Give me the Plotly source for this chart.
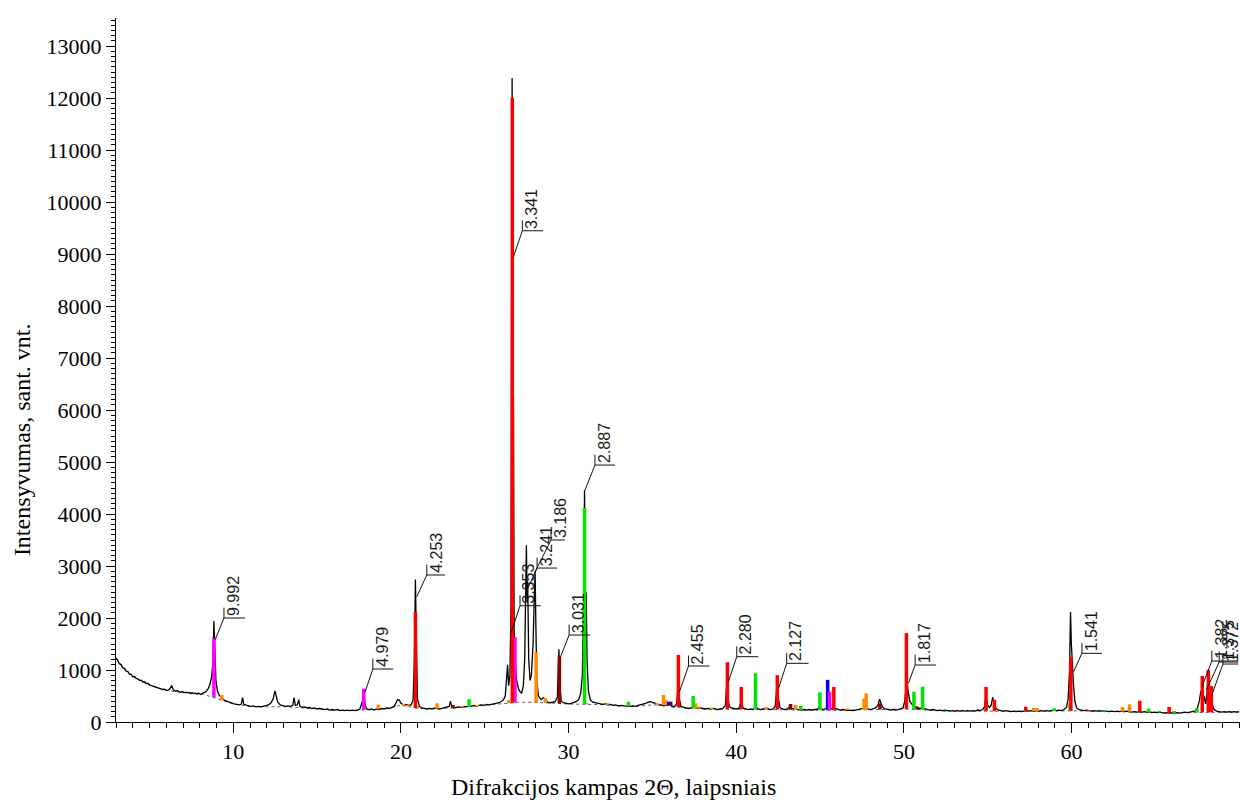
import numpy as np
import plotly.graph_objects as go

# ---- measured diffractogram (2theta, counts) ----
scan = [
    (3.00, 1230), (3.10, 1190), (3.20, 1120), (3.30, 1100), (3.40, 1040), (3.50, 1030), (3.60, 980),
    (3.70, 975), (3.80, 920), (3.90, 915), (4.00, 870), (4.10, 880), (4.20, 840), (4.30, 830),
    (4.40, 800), (4.50, 805), (4.60, 770), (4.70, 775), (4.80, 740), (4.90, 745), (5.00, 715),
    (5.10, 705), (5.20, 690), (5.30, 685), (5.40, 660), (5.50, 665), (5.60, 645), (5.70, 635),
    (5.80, 625), (5.90, 630), (6.00, 610), (6.10, 615), (6.20, 630), (6.32, 700), (6.42, 620),
    (6.55, 590), (6.65, 605), (6.75, 585), (6.85, 570), (6.95, 585), (7.05, 565), (7.15, 575),
    (7.25, 560), (7.35, 570), (7.45, 550), (7.55, 565), (7.65, 545), (7.75, 555), (7.85, 540),
    (7.95, 555), (8.05, 530), (8.20, 560), (8.35, 580), (8.50, 640), (8.60, 720), (8.70, 860),
    (8.78, 1150), (8.84, 1940), (8.90, 1300), (8.96, 800), (9.05, 600), (9.15, 520), (9.30, 460),
    (9.45, 420), (9.60, 400), (9.75, 380), (9.90, 360), (10.05, 350), (10.20, 340), (10.35, 330),
    (10.47, 340), (10.55, 470), (10.62, 340), (10.75, 320), (10.90, 310), (11.05, 300), (11.20, 310),
    (11.35, 290), (11.50, 300), (11.65, 290), (11.80, 300), (11.95, 310), (12.10, 330), (12.25, 370),
    (12.38, 450), (12.48, 600), (12.56, 480), (12.65, 380), (12.80, 330), (12.95, 320), (13.10, 300),
    (13.25, 310), (13.40, 300), (13.55, 320), (13.62, 470), (13.70, 320), (13.82, 330), (13.90, 430),
    (13.97, 300), (14.10, 280), (14.25, 290), (14.40, 270), (14.55, 280), (14.70, 260), (14.85, 270),
    (15.00, 250), (15.15, 260), (15.30, 250), (15.45, 240), (15.60, 250), (15.75, 230), (15.90, 240),
    (16.05, 230), (16.20, 240), (16.35, 220), (16.50, 230), (16.65, 220), (16.80, 230), (16.95, 220),
    (17.10, 230), (17.25, 220), (17.40, 230), (17.55, 250), (17.70, 400), (17.78, 590), (17.86, 330),
    (17.95, 250), (18.10, 240), (18.25, 250), (18.40, 230), (18.55, 250), (18.70, 240), (18.85, 260),
    (19.00, 250), (19.15, 270), (19.30, 260), (19.45, 280), (19.60, 300), (19.72, 380), (19.80, 430),
    (19.90, 420), (20.00, 360), (20.15, 330), (20.30, 340), (20.45, 320), (20.60, 330), (20.72, 420),
    (20.80, 1200), (20.86, 2740), (20.92, 1000), (20.98, 450), (21.10, 300), (21.25, 270),
    (21.40, 260), (21.55, 250), (21.70, 260), (21.85, 250), (22.00, 270), (22.15, 260), (22.30, 250),
    (22.45, 260), (22.60, 270), (22.75, 280), (22.88, 300), (22.95, 400), (23.03, 290), (23.15, 270),
    (23.30, 280), (23.45, 290), (23.60, 280), (23.75, 300), (23.90, 290), (24.05, 310), (24.20, 300),
    (24.35, 320), (24.50, 310), (24.65, 320), (24.80, 330), (24.95, 320), (25.10, 340), (25.25, 330),
    (25.40, 340), (25.55, 350), (25.70, 360), (25.85, 370), (26.00, 400), (26.12, 430), (26.22, 500),
    (26.30, 900), (26.36, 1100), (26.42, 700), (26.50, 900), (26.56, 2200), (26.63, 12385),
    (26.68, 4000), (26.71, 6250), (26.75, 1800), (26.82, 1100), (26.90, 800), (27.00, 650),
    (27.10, 580), (27.20, 560), (27.30, 700), (27.38, 1200), (27.44, 2500), (27.48, 3400),
    (27.53, 2300), (27.56, 2700), (27.62, 1200), (27.70, 800), (27.78, 900), (27.88, 1500),
    (27.96, 2500), (28.00, 2900), (28.05, 1800), (28.10, 800), (28.20, 500), (28.35, 430),
    (28.50, 470), (28.62, 420), (28.75, 380), (28.90, 370), (29.05, 380), (29.20, 390), (29.33, 480),
    (29.42, 1400), (29.48, 700), (29.56, 400), (29.70, 370), (29.85, 360), (30.00, 350), (30.15, 360),
    (30.30, 370), (30.45, 390), (30.60, 430), (30.72, 550), (30.82, 900), (30.90, 2500),
    (30.95, 4460), (31.00, 2500), (31.05, 2480), (31.10, 1200), (31.18, 600), (31.30, 420),
    (31.45, 380), (31.60, 370), (31.75, 360), (31.90, 350), (32.05, 340), (32.20, 350), (32.35, 330),
    (32.50, 340), (32.65, 320), (32.80, 330), (32.95, 310), (33.10, 320), (33.25, 310), (33.40, 300),
    (33.55, 310), (33.70, 300), (33.85, 310), (34.00, 300), (34.15, 320), (34.30, 330), (34.45, 340),
    (34.60, 360), (34.75, 380), (34.90, 390), (35.05, 370), (35.20, 360), (35.35, 330), (35.50, 330),
    (35.65, 310), (35.80, 320), (35.95, 330), (36.05, 390), (36.15, 300), (36.30, 290), (36.45, 350),
    (36.53, 750), (36.60, 450), (36.70, 300), (36.85, 280), (37.00, 270), (37.15, 260), (37.30, 270),
    (37.45, 300), (37.55, 280), (37.70, 260), (37.85, 270), (38.00, 260), (38.15, 250), (38.30, 260),
    (38.45, 250), (38.60, 260), (38.75, 250), (38.90, 240), (39.05, 250), (39.20, 260), (39.35, 320),
    (39.44, 770), (39.50, 500), (39.58, 300), (39.70, 270), (39.85, 260), (40.00, 250), (40.15, 260),
    (40.25, 330), (40.32, 400), (40.40, 270), (40.55, 250), (40.70, 240), (40.85, 250), (41.00, 240),
    (41.10, 270), (41.20, 280), (41.30, 250), (41.45, 240), (41.60, 250), (41.75, 260), (41.90, 250),
    (42.05, 240), (42.20, 250), (42.32, 300), (42.42, 650), (42.50, 450), (42.60, 280), (42.75, 250),
    (42.90, 240), (43.05, 250), (43.20, 300), (43.30, 260), (43.45, 250), (43.60, 240), (43.75, 240),
    (43.90, 230), (44.05, 240), (44.20, 230), (44.35, 240), (44.50, 230), (44.65, 240), (44.80, 240),
    (44.95, 280), (45.05, 250), (45.20, 240), (45.35, 260), (45.45, 300), (45.55, 270), (45.70, 250),
    (45.80, 310), (45.90, 260), (46.05, 240), (46.20, 230), (46.35, 240), (46.50, 230), (46.65, 220),
    (46.80, 230), (46.95, 220), (47.10, 230), (47.25, 240), (47.40, 250), (47.55, 260), (47.70, 270),
    (47.85, 250), (48.00, 240), (48.15, 250), (48.30, 270), (48.45, 320), (48.55, 440), (48.65, 350),
    (48.75, 280), (48.90, 250), (49.05, 240), (49.20, 230), (49.35, 240), (49.50, 230), (49.65, 240),
    (49.80, 250), (49.95, 270), (50.05, 400), (50.12, 700), (50.17, 820), (50.25, 600), (50.35, 400),
    (50.50, 330), (50.65, 300), (50.80, 270), (50.95, 260), (51.10, 280), (51.25, 250), (51.40, 240),
    (51.55, 230), (51.70, 240), (51.85, 230), (52.00, 220), (52.15, 230), (52.30, 220), (52.45, 230),
    (52.60, 220), (52.75, 210), (52.90, 220), (53.05, 210), (53.20, 220), (53.35, 210), (53.50, 220),
    (53.65, 210), (53.80, 220), (53.95, 210), (54.10, 220), (54.25, 210), (54.40, 230), (54.55, 220),
    (54.70, 240), (54.82, 300), (54.90, 520), (54.98, 330), (55.10, 280), (55.20, 320), (55.30, 480),
    (55.38, 350), (55.50, 260), (55.65, 230), (55.80, 220), (55.95, 210), (56.10, 220), (56.25, 210),
    (56.40, 200), (56.55, 210), (56.70, 200), (56.85, 210), (57.00, 200), (57.15, 210), (57.30, 220),
    (57.45, 210), (57.60, 220), (57.75, 210), (57.90, 220), (58.05, 210), (58.20, 220), (58.35, 210),
    (58.50, 220), (58.65, 210), (58.80, 220), (58.95, 230), (59.10, 220), (59.25, 230), (59.40, 220),
    (59.55, 240), (59.70, 280), (59.80, 450), (59.88, 1000), (59.94, 2115), (59.99, 1500),
    (60.05, 1100), (60.12, 700), (60.20, 400), (60.30, 270), (60.45, 240), (60.60, 230), (60.75, 220),
    (60.90, 230), (61.05, 220), (61.20, 210), (61.35, 220), (61.50, 210), (61.65, 220), (61.80, 210),
    (61.95, 220), (62.10, 210), (62.25, 200), (62.40, 210), (62.55, 200), (62.70, 210), (62.85, 200),
    (63.00, 210), (63.15, 200), (63.30, 210), (63.45, 200), (63.60, 190), (63.75, 200), (63.90, 190),
    (64.05, 200), (64.20, 190), (64.35, 200), (64.50, 190), (64.65, 200), (64.80, 180), (64.95, 190),
    (65.10, 180), (65.25, 190), (65.40, 180), (65.55, 170), (65.70, 180), (65.85, 170), (66.00, 180),
    (66.15, 170), (66.30, 180), (66.45, 170), (66.60, 180), (66.75, 190), (66.90, 180), (67.05, 190),
    (67.20, 200), (67.35, 210), (67.50, 260), (67.62, 400), (67.72, 600), (67.80, 420), (67.90, 500),
    (68.00, 350), (68.08, 550), (68.14, 850), (68.20, 500), (68.30, 600), (68.38, 350), (68.50, 240),
    (68.65, 210), (68.80, 200), (68.95, 190), (69.10, 200), (69.25, 190), (69.40, 200), (69.55, 190),
    (69.70, 200), (69.85, 190), (70.00, 200),
]
two_theta = [p[0] for p in scan]
counts = [p[1] for p in scan]

# ---- fitted background ----
bg_2t = [3, 4, 5, 6, 7, 8.2, 10, 11, 12, 13, 14, 15, 16, 17, 18, 19, 20, 21, 22, 23, 24, 25, 26, 27,
         28, 29, 30, 31, 32, 33, 34, 35, 36, 37, 38, 39, 40, 42, 44, 46, 48, 50, 52, 54, 56, 58, 60,
         62, 64, 66, 68, 70]
bg_counts = [1215, 870, 705, 605, 565, 535, 345, 300, 290, 295, 275, 250, 230, 220, 240, 250,
             325, 260, 255, 270, 290, 320, 350, 380, 380, 360, 345, 340, 335, 310, 300, 330, 320,
             260, 255, 245, 245, 240, 230, 225, 235, 250, 220, 210, 205, 210, 215, 205, 195, 175,
             185, 190]

# ---- reference phase sticks (position, top intensity) ----
red_2t = [20.86, 26.64, 36.55, 39.47, 40.30, 42.45, 45.82, 50.15, 54.90, 55.40, 57.27, 59.96,
          61.00, 64.07, 65.82, 67.80, 68.16, 68.34]
red_top = [2115, 12000, 1290, 1150, 675, 900, 675, 1710, 675, 425, 295, 1250, 230, 410, 290, 885,
           1000, 690]

magenta_2t = [8.84, 17.78, 26.80, 45.57]
magenta_top = [1615, 640, 1630, 583]

green_2t = [24.06, 30.95, 33.57, 37.43, 41.15, 43.85, 44.99, 50.60, 51.12, 52.42, 58.96, 59.91,
            62.00, 64.59, 65.23, 66.12, 67.48]
green_top = [440, 4115, 390, 500, 940, 308, 570, 583, 680, 190, 263, 360, 230, 260, 215, 215, 260]

orange_2t = [9.31, 18.64, 20.14, 20.37, 20.97, 22.15, 23.64, 24.53, 26.42, 27.72, 28.06, 28.61,
             31.06, 32.30, 33.33, 35.28, 35.66, 35.84, 37.57, 37.75, 38.52, 41.77, 43.54, 46.62,
             47.62, 47.75, 57.75, 57.95, 63.04, 63.46]
orange_top = [520, 330, 346, 330, 320, 360, 308, 327, 420, 390, 1340, 460, 365, 370, 295, 365, 520,
              420, 360, 300, 275, 288, 327, 263, 450, 551, 270, 270, 290, 340]

maroon_2t = [23.10, 29.45, 36.09, 43.24, 48.57, 50.78]
maroon_top = [327, 1256, 390, 346, 360, 300]

blue_2t = [35.97, 45.45]
blue_top = [385, 810]

# ---- d-spacing labels: leader start, elbow and bar end ----
label_text = ["9.992", "4.979", "4.253", "3.341", "3.353", "3.241", "3.186", "3.031", "2.887",
              "2.455", "2.280", "2.127", "1.817", "1.541", "1.382", "1.375", "1.372"]
label_start_2t = [8.91, 17.86, 20.94, 26.71, 26.57, 27.52, 27.99, 29.49, 30.98, 36.61, 39.53,
                  42.52, 50.27, 60.12, 67.78, 68.04, 68.37]
label_start_i = [1580, 577, 2410, 8948, 1717, 2538, 2884, 1231, 4461, 583, 775, 648, 744, 967,
                 679, 615, 519]
label_elbow_2t = [9.44, 18.32, 21.54, 27.24, 27.10, 28.12, 28.95, 30.03, 31.57, 37.15, 40.03,
                  43.01, 50.67, 60.62, 68.37, 68.81, 69.03]
label_bar_i = [2000, 1019, 2827, 9448, 2236, 2961, 3500, 1673, 4942, 1077, 1256, 1129, 1096, 1321,
               1173, 1154, 1115]
label_end_2t = [10.70, 19.54, 22.63, 28.48, 28.34, 29.31, 29.79, 31.28, 32.77, 38.40, 41.32,
                44.31, 51.92, 61.81, 69.94, 69.94, 69.94]

SERIF = "Liberation Serif"
SANS = "Liberation Sans"

fig = go.Figure()

# dashed background under the scan
fig.add_trace(go.Scatter(x=bg_2t, y=bg_counts, mode="lines",
                         line=dict(color="#333333", width=0.8, dash="3px,3px"),
                         hoverinfo="skip", showlegend=False))

# the scan itself
fig.add_trace(go.Scatter(x=two_theta, y=counts, mode="lines",
                         line=dict(color="black", width=1.3),
                         showlegend=False))


def sticks(pos, top, color, width=3.5):
    base = np.interp(pos, bg_2t, bg_counts)
    xs, ys = [], []
    for p, b, t in zip(pos, base, top):
        xs += [p, p, None]
        ys += [b, t, None]
    return go.Scatter(x=xs, y=ys, mode="lines", line=dict(color=color, width=width),
                      hoverinfo="skip", showlegend=False)


fig.add_trace(sticks(orange_2t, orange_top, "#FF8C00"))
fig.add_trace(sticks(maroon_2t, maroon_top, "#8B0000"))
fig.add_trace(sticks(blue_2t, blue_top, "#0000FF"))
fig.add_trace(sticks(green_2t, green_top, "#00E600"))
fig.add_trace(sticks(magenta_2t, magenta_top, "#FF00FF"))
fig.add_trace(sticks(red_2t, red_top, "#FF0000"))

# leader lines for the d-spacing labels
tick_up = 200
lx, ly = [], []
for x0, y0, xe, yb, x1 in zip(label_start_2t, label_start_i, label_elbow_2t, label_bar_i,
                              label_end_2t):
    lx += [x0, xe, x1, None, xe, xe, None]
    ly += [y0, yb, yb, None, yb, yb + tick_up, None]
fig.add_trace(go.Scatter(x=lx, y=ly, mode="lines", line=dict(color="#111111", width=1),
                         hoverinfo="skip", showlegend=False))

annotations = []
for txt, xe, yb in zip(label_text, label_elbow_2t, label_bar_i):
    annotations.append(dict(x=xe, y=yb, xref="x", yref="y", text=txt, showarrow=False,
                            textangle=-90, xanchor="center", yanchor="bottom",
                            xshift=9, yshift=1, borderpad=0,
                            font=dict(family=SANS, size=16, color="#1a1a1a")))

# axis titles
annotations.append(dict(x=-0.0835, y=0.4006, xref="paper", yref="paper",
                        text="Intensyvumas, sant. vnt.", showarrow=False, textangle=-90,
                        xanchor="center", yanchor="middle",
                        font=dict(family=SERIF, size=24, color="black")))
annotations.append(dict(x=0.443, y=-0.0923, xref="paper", yref="paper",
                        text="Difrakcijos kampas 2\u0398, laipsniais", showarrow=False,
                        xanchor="center", yanchor="middle",
                        font=dict(family=SERIF, size=24, color="black")))

fig.update_layout(
    width=1240, height=803,
    margin=dict(l=116, r=0, t=18, b=81),
    paper_bgcolor="white", plot_bgcolor="white",
    annotations=annotations,
    xaxis=dict(range=[3, 70.05], tickvals=[10, 20, 30, 40, 50, 60], ticks="outside",
               ticklen=10, tickwidth=1, tickcolor="black",
               minor=dict(dtick=1, tick0=0, ticks="outside", ticklen=5, tickcolor="black"),
               showline=True, linecolor="black", linewidth=1, showgrid=False, zeroline=False,
               tickfont=dict(family=SERIF, size=22, color="black")),
    xaxis2=dict(overlaying="x", matches="x", anchor="y", tickvals=[5, 15, 25, 35, 45, 55, 65],
                ticks="outside", ticklen=7, tickcolor="black", showticklabels=False,
                showline=False, showgrid=False, zeroline=False),
    yaxis=dict(range=[0, 13540], dtick=1000, tick0=0, tickformat="d", ticks="outside",
               ticklen=9, tickwidth=1, tickcolor="black",
               minor=dict(dtick=100, ticks="outside", ticklen=4, tickcolor="black"),
               showline=True, linecolor="black", linewidth=1, showgrid=False, zeroline=False,
               tickfont=dict(family=SERIF, size=22, color="black")),
)

fig.write_html("out.html")
